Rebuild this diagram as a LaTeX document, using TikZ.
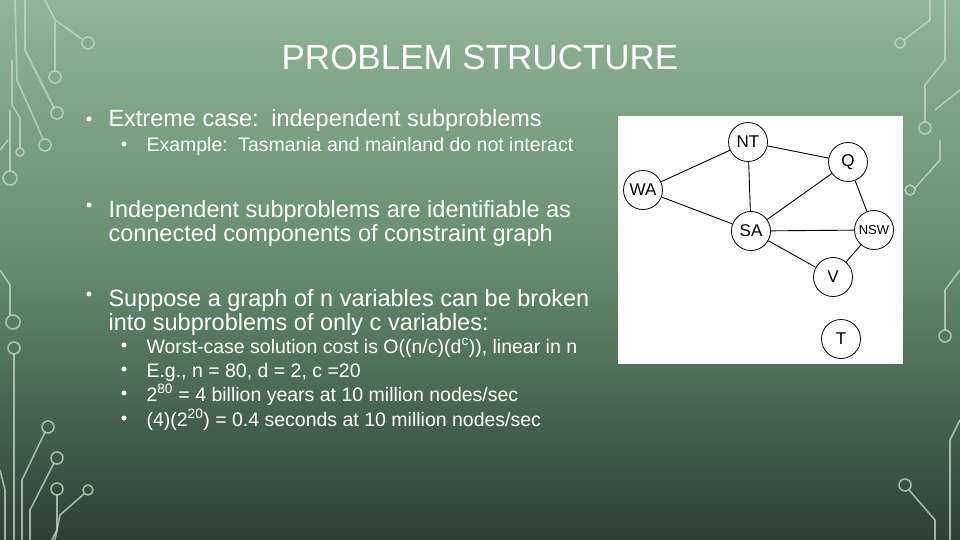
\documentclass[tikz,border=0pt]{standalone}
\usepackage{fontspec}
\setmainfont{Liberation Sans}
\definecolor{bgtop}{HTML}{93B496}
\definecolor{bgmid}{HTML}{648A6C}
\definecolor{bgbot}{HTML}{2C4034}
\definecolor{trc}{HTML}{C9D9C6}
\begin{document}
\begin{tikzpicture}[x=1pt,y=-1pt,
  trace/.style={draw=trc,opacity=0.75,line width=1.6pt},
  pad/.style={trace,fill=none},
  gnode/.style={circle,draw=black,line width=0.8pt,minimum size=39pt,inner sep=0pt,font=\fontsize{17}{17}\selectfont},
  gedge/.style={draw=black,line width=0.9pt},
  bl/.style={anchor=base west,text=white,font=\fontsize{23.5}{24}\selectfont},
  sbl/.style={anchor=base west,text=white,font=\fontsize{19.5}{20}\selectfont},
  dot/.style={circle,fill=white,inner sep=0pt,minimum size=5pt}]
\shade[top color=bgtop, bottom color=bgbot, middle color=bgmid] (0,0) rectangle (960,540);
\useasboundingbox (0,0) rectangle (960,540);
% circuit decorations left top
\draw[pad] (88,43) circle (6);
\draw[trace] (82,39) -- (55,20) -- (45,0);
\draw[pad] (55,77) circle (6);
\draw[trace] (55,71) -- (55,22);
\draw[pad] (57,113) circle (6);
\draw[trace] (54,108) -- (25,50) -- (25,0);
\draw[pad] (45,145) circle (6);
\draw[trace] (43,139) -- (17,80) -- (15,0);
\draw[pad] (20,152) circle (4);
\draw[trace] (20,148) -- (20,118) -- (12,105) -- (12,60);
\draw[pad] (10,178) circle (7);
\draw[trace] (10,171) -- (10,110);
\draw[trace] (0,150) -- (8,140);
% left bottom
\draw[trace] (0,270) -- (10,285) -- (10,315);
\draw[pad] (13,322) circle (7);
\draw[pad] (14,348) circle (6);
\draw[trace] (14,354) -- (14,540);
\draw[pad] (48,427) circle (6);
\draw[trace] (45,432) -- (22,480) -- (22,540);
\draw[pad] (57,458) circle (6);
\draw[trace] (54,463) -- (30,510) -- (30,540);
\draw[pad] (57,489) circle (6);
\draw[trace] (57,495) -- (57,530) -- (52,540);
\draw[pad] (88,490) circle (5);
\draw[trace] (84,494) -- (60,515) -- (55,540);
\draw[trace] (0,470) -- (5,490) -- (5,540);
% right
\draw[pad] (900,43) circle (5);
\draw[trace] (904,40) -- (930,20) -- (930,0);
\draw[trace] (945,0) -- (945,60) -- (925,85) -- (925,122);
\draw[pad] (925,128) circle (6);
\draw[trace] (960,90) -- (935,110);
\draw[pad] (910,190) circle (5);
\draw[trace] (915,188) -- (940,160) -- (940,140);
\draw[trace] (960,270) -- (945,290) -- (945,330);
\draw[pad] (945,336) circle (6);
\draw[pad] (905,485) circle (6);
\draw[trace] (909,490) -- (935,520) -- (935,540);
\draw[trace] (960,420) -- (950,440) -- (950,540);
% title
\node[text=white,font=\fontsize{35}{38}\selectfont] (title) at (480,57) {PROBLEM STRUCTURE};
% bullets
\node[dot] (d1) at (89,119) {}; \node[bl] (b1) at (105,127) {Extreme case:\, independent subproblems};
\node[dot] (d2) at (124,144) {}; \node[sbl] (s1) at (143,152) {Example:\, Tasmania and mainland do not interact};
\node[dot] (d3) at (89,205) {}; \node[bl] (b2) at (105,217) {Independent subproblems are identifiable as};
\node[bl] (b2b) at (105,241) {connected components of constraint graph};
\node[dot] (d4) at (89,294) {}; \node[bl] (b3) at (105,306) {Suppose a graph of n variables can be broken};
\node[bl] (b3b) at (105,330) {into subproblems of only c variables:};
\node[dot] (d5) at (124,345) {}; \node[sbl] (s2) at (143,353) {Worst-case solution cost is O((n/c)(d\textsuperscript{c})), linear in n};
\node[dot] (d6) at (124,369) {}; \node[sbl] (s3) at (143,377) {E.g., n = 80, d = 2, c =20};
\node[dot] (d7) at (124,393) {}; \node[sbl] (s4) at (143,401) {2\textsuperscript{80} = 4 billion years at 10 million nodes/sec};
\node[dot] (d8) at (124,418) {}; \node[sbl] (s5) at (143,426) {(4)(2\textsuperscript{20}) = 0.4 seconds at 10 million nodes/sec};
% graph panel
\fill[white] (618,116) rectangle (903,364);
\node[gnode] (NT) at (748,142) {NT};
\node[gnode] (Q) at (848,162) {Q};
\node[gnode] (WA) at (643,190) {WA};
\node[gnode] (SA) at (751,231) {SA};
\node[gnode,font=\fontsize{13}{13}\selectfont] (NSW) at (874,230) {NSW};
\node[gnode] (V) at (833,277) {V};
\node[gnode] (T) at (841,339) {T};
\draw[gedge] (WA)--(NT) (WA)--(SA) (NT)--(SA) (NT)--(Q) (SA)--(Q) (Q)--(NSW) (SA)--(NSW) (SA)--(V) (NSW)--(V);
\end{tikzpicture}
\end{document}
